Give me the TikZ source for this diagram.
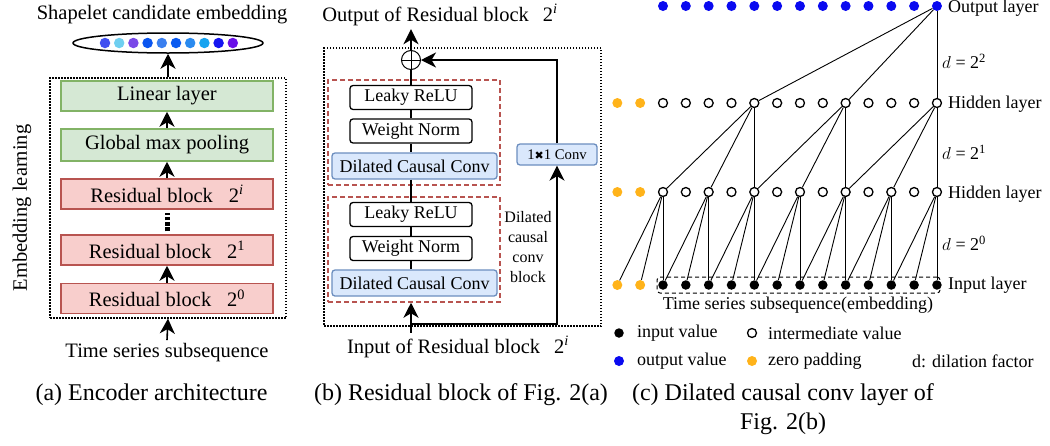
\documentclass[tikz,border=0pt]{standalone}
\usepackage{fontspec}
\setmainfont{Liberation Serif}
\newfontfamily\dejavu{DejaVu Sans}
\usetikzlibrary{arrows.meta,shapes.geometric}
\definecolor{gborder}{HTML}{82B366}
\definecolor{gfill}{HTML}{D5E8D4}
\definecolor{rborder}{HTML}{B85450}
\definecolor{rfill}{HTML}{F8CECC}
\definecolor{bborder}{HTML}{6C8EBF}
\definecolor{bfill}{HTML}{DAE8FC}
\definecolor{outblue}{HTML}{0A0AF0}
\definecolor{zporange}{HTML}{FFB31A}
\definecolor{ca}{HTML}{4050F0}
\definecolor{cb}{HTML}{6FCFF0}
\definecolor{cc}{HTML}{7A48E8}
\definecolor{cd}{HTML}{0A55F0}
\definecolor{ce}{HTML}{3A7FEF}
\definecolor{cf}{HTML}{0A5AF0}
\definecolor{cg}{HTML}{2A8AEF}
\definecolor{ch}{HTML}{15A3F0}
\definecolor{ci}{HTML}{1515F0}
\definecolor{cj}{HTML}{6A10E8}
\newcommand\fsBig{\fontsize{20.5}{24}\selectfont}
\newcommand\fsMid{\fontsize{18}{21}\selectfont}
\newcommand\fsSmall{\fontsize{14.7}{17}\selectfont}
\newcommand\fsBlk{\fontsize{16}{20.3}\selectfont}
\newcommand\fsCap{\fontsize{24}{29}\selectfont}
\tikzset{
 arr/.style={line width=1.6pt, -{Stealth[length=15pt,width=15pt,inset=4.5pt]}},
 gbox/.style={draw=gborder, fill=gfill, line width=1.5pt, minimum width=212pt, minimum height=30pt, inner sep=0pt, font=\fsBig},
 rbox/.style={gbox, draw=rborder, fill=rfill},
 wbox/.style={draw, rounded corners=3pt, line width=1.3pt, fill=white, minimum width=122pt, minimum height=24pt, inner sep=0pt, font=\fsMid},
 bbox/.style={draw=bborder, fill=bfill, rounded corners=3pt, line width=1.3pt, minimum width=165pt, minimum height=26pt, inner sep=0pt, font=\fsMid},
 dotbox/.style={draw, line width=1.2pt, dash pattern=on 1.5pt off 1.5pt, inner sep=0pt},
 redbox/.style={draw=rborder, line width=1.5pt, dash pattern=on 5pt off 3pt, inner sep=0pt},
 indot/.style={circle, fill=black, minimum size=9.5pt, inner sep=0pt},
 middot/.style={circle, draw=black, fill=white, line width=1.3pt, minimum size=9pt, inner sep=0pt},
 outdot/.style={circle, fill=outblue, minimum size=10pt, inner sep=0pt},
 zpdot/.style={circle, fill=zporange, minimum size=10pt, inner sep=0pt},
 conn/.style={line width=0.9pt},
 lab/.style={anchor=west, inner sep=0pt, font=\fsMid},
}
\begin{document}
\begin{tikzpicture}[x=1pt,y=-1pt]
\useasboundingbox (0,0) rectangle (1050,445);
% ---------- panel (a)
\node[font=\fsBig] (ttl) at (162,15) {Shapelet candidate embedding};
\node[ellipse, draw, line width=1.5pt, minimum width=190pt, minimum height=20pt, inner sep=0pt] (elli) at (168,43) {};
\foreach \c [count=\i] in {ca,cb,cc,cd,ce,cf,cg,ch,ci,cj}
  \node[circle, fill=\c, minimum size=10.5pt, inner sep=0pt] (ed\i) at ({105+14.2*(\i-1)},43) {};
\node[dotbox, minimum width=236pt, minimum height=240pt] (encbox) at (168,198) {};
\node[gbox] (lin) at (167,96) {Linear layer};
\node[gbox, minimum height=32pt] (gmp) at (167,145) {Global max pooling};
\node[rbox] (rbi) at (167,194) {Residual block\hspace{16pt}2\textsuperscript{\textit{i}}};
\node[rbox] (rb1) at (167,250) {Residual block\hspace{16pt}2\textsuperscript{1}};
\node[rbox] (rb0) at (167,298.5) {Residual block\hspace{16pt}2\textsuperscript{0}};
\draw[arr] (encbox.north) -- (elli.south);
\draw[arr] (gmp.north) -- (lin.south);
\draw[arr] (rbi.north) -- (gmp.south);
\draw[arr] (rb0.north) -- (rb1.south);
\draw[line width=5pt, dash pattern=on 3.8pt off 1.6pt, shorten <=3pt, shorten >=3pt] (rb1.north) -- (rbi.south);
\node[font=\fsBig] (tss) at (167,353) {Time series subsequence};
\draw[arr] (tss.north) -- (encbox.south);
\node[font=\fsBig, rotate=90] (emb) at (22,208) {Embedding learning};
\node[font=\fsCap] (capa) at (151.5,395) {(a) Encoder architecture};
% ---------- panel (b)
\node[font=\fsBig] (outt) at (440,15) {Output of Residual block\hspace{14pt}2\textsuperscript{\textit{i}}};
\node[dotbox, minimum width=277pt, minimum height=278pt] (resbox) at (462.5,187) {};
\node[redbox, minimum width=172pt, minimum height=105pt] (dcb1) at (414,132.5) {};
\node[redbox, minimum width=172pt, minimum height=105pt] (dcb2) at (414,249.5) {};
\node[circle, draw, fill=white, line width=1pt, minimum size=19pt, inner sep=0pt] (plus) at (411,60) {};
\draw[line width=1pt] (plus.north) -- (plus.south) (plus.west) -- (plus.east);
\draw[arr] (plus.north) -- (plus.north |- outt.south);
\node[wbox] (lr1) at (411,97.5) {Leaky ReLU};
\node[wbox] (wn1) at (411,131) {Weight Norm};
\node[bbox] (dc1) at (414.5,166) {Dilated Causal Conv};
\node[wbox] (lr2) at (411,214.5) {Leaky ReLU};
\node[wbox] (wn2) at (411,248.5) {Weight Norm};
\node[bbox] (dc2) at (414.5,283) {Dilated Causal Conv};
\draw[line width=1.2pt] (plus.south) -- (lr1.north);
\draw[line width=1.2pt] (lr1.south) -- (wn1.north);
\draw[line width=1.2pt] (wn1.south) -- (wn1.south |- dc1.north);
\draw[line width=1.2pt] (lr2.north |- dc1.south) -- (lr2.north);
\draw[line width=1.2pt] (lr2.south) -- (wn2.north);
\draw[line width=1.2pt] (wn2.south) -- (wn2.south |- dc2.north);
\node[bbox, minimum width=80pt, minimum height=21pt, font=\fsSmall] (c11) at (557,154.5) {1{\dejavu\fontsize{11}{11}\selectfont ✖}1 Conv};
\node[font=\fsBlk, align=center] (dcbl) at (528,247) {Dilated\\causal\\conv\\block};
\node[font=\fsBig] (int) at (458,347) {Input of Residual block\hspace{14pt}2\textsuperscript{\textit{i}}};
\coordinate (split) at (411,324);
\draw[arr] (split |- int.north) -- (split |- dcb2.south);
\draw[arr] (split) -- (split -| c11.south) -- (c11.south);
\draw[arr] (c11.north) -- (c11.north |- plus.east) -- (plus.east);
\node[font=\fsCap] (capb) at (461,395) {(b) Residual block of Fig. 2(a)};
% ---------- panel (c)
\node[draw, dash pattern=on 4pt off 3pt, rounded corners=3pt, line width=1pt, minimum width=283pt, minimum height=16pt, inner sep=0pt] (tsbox) at (798.5,285) {};
\foreach \k in {2,...,14} {
  \node[outdot] (o\k) at ({617.34+22.83*\k},6) {};
  \node[middot] (ha\k) at ({617.34+22.83*\k},103) {};
  \node[middot] (hb\k) at ({617.34+22.83*\k},192) {};
  \node[indot] (in\k) at ({617.34+22.83*\k},285) {};
}
\foreach \k in {0,1} {
  \node[zpdot] (ha\k) at ({617.34+22.83*\k},103) {};
  \node[zpdot] (hb\k) at ({617.34+22.83*\k},192) {};
  \node[zpdot] (in\k) at ({617.34+22.83*\k},285) {};
}
\foreach \j in {6,10,14} \draw[conn] (o14) -- (ha\j);
\foreach \j in {6,10,14} {
  \pgfmathtruncatemacro\ja{\j-4}
  \pgfmathtruncatemacro\jb{\j-2}
  \draw[conn] (ha\j) -- (hb\ja);
  \draw[conn] (ha\j) -- (hb\jb);
  \draw[conn] (ha\j) -- (hb\j);
}
\foreach \j in {2,4,...,14} {
  \pgfmathtruncatemacro\ja{\j-2}
  \pgfmathtruncatemacro\jb{\j-1}
  \draw[conn] (hb\j) -- (in\ja);
  \draw[conn] (hb\j) -- (in\jb);
  \draw[conn] (hb\j) -- (in\j);
}
\node[lab] (lo) at (948,8) {Output layer};
\node[lab] (lh1) at (948,104) {Hidden layer};
\node[lab] (lh2) at (948,194) {Hidden layer};
\node[lab] (li) at (948,285) {Input layer};
\node[lab] (d2) at (942,61) {$d$ = 2\textsuperscript{2}};
\node[lab] (d1) at (942,152) {$d$ = 2\textsuperscript{1}};
\node[lab] (d0) at (942,243) {$d$ = 2\textsuperscript{0}};
\node[font=\fsMid] (tsl) at (798,305) {Time series subsequence(embedding)};
\node[indot] (lg1) at (619,333) {};
\node[lab] (lt1) at (637,333) {input value};
\node[middot] (lg2) at (752,333) {};
\node[lab] (lt2) at (768,333) {intermediate value};
\node[outdot] (lg3) at (619,361) {};
\node[lab] (lt3) at (637,361) {output value};
\node[zpdot] (lg4) at (752,361) {};
\node[lab] (lt4) at (768,361) {zero padding};
\node[lab] (lt5) at (912,361) {d: dilation factor};
\node[font=\fsCap, align=center] (capc) at (783,409.5) {(c) Dilated causal conv layer of\\Fig. 2(b)};
\end{tikzpicture}
\end{document}
